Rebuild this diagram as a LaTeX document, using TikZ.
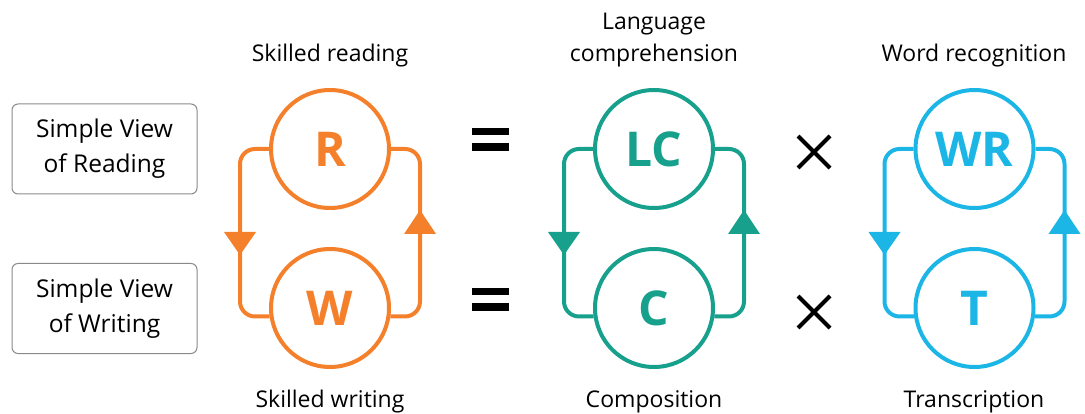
\documentclass[tikz,border=0pt]{standalone}
\usepackage{fontspec}
\setmainfont{Open Sans}
\usetikzlibrary{calc}
\definecolor{orng}{HTML}{F5802B}
\definecolor{teal2}{HTML}{17A08C}
\definecolor{blu}{HTML}{1BB5E6}
\definecolor{boxgray}{HTML}{8A8A8A}
\tikzset{
  circ/.style={circle, draw, line width=4pt, minimum size=118pt, inner sep=0pt,
    font=\fontsize{48}{48}\selectfont\bfseries},
  loopline/.style={line width=4pt, rounded corners=15pt},
  lbl/.style={font=\fontsize{23}{32}\selectfont, anchor=base, inner sep=0pt, align=center},
  sidebox/.style={draw=boxgray, line width=1pt, rounded corners=6pt, minimum width=185pt,
    minimum height=90pt, inner sep=0pt, align=center, font=\fontsize{24.5}{35}\selectfont},
  opsym/.style={line width=4pt},
}
\newcommand{\loopgroup}[5]{%
  % #1 prefix, #2 centre x, #3 colour, #4 top letter, #5 bottom letter
  \node[circ, draw=#3, text=#3] (#1top) at (#2,149) {#4};
  \node[circ, draw=#3, text=#3] (#1bot) at (#2,308) {#5};
  \coordinate (#1L) at (#2-90,0);
  \coordinate (#1R) at (#2+90,0);
  \draw[loopline, draw=#3] (#1top.west) -- (#1top.west -| #1L) |- (#1bot.188);
  \draw[loopline, draw=#3] (#1bot.-8) -- (#1bot.-8 -| #1R) |- (#1top.east);
  \fill[#3] (#2-106,232) -- (#2-74,232) -- (#2-90,255) -- cycle;
  \fill[#3] (#2+74,234) -- (#2+106,234) -- (#2+90,210) -- cycle;
}
\begin{document}
\begin{tikzpicture}[x=1pt, y=-1pt]
\useasboundingbox (0,0) rectangle (1085,414);
% side boxes
\node[sidebox] (svr) at (104.5,149) {Simple View\\of Reading};
\node[sidebox] (svw) at (104.5,308.5) {Simple View\\of Writing};
% groups
\loopgroup{o}{330}{orng}{R}{W}
\loopgroup{t}{654}{teal2}{LC}{C}
\loopgroup{b}{974.5}{blu}{WR}{T}
% labels
\node[lbl] (lsr) at (330,62) {Skilled reading};
\node[lbl] (lsw) at (330,407) {Skilled writing};
\node[lbl] (llc1) at (654,30) {Language};
\node[lbl] (llc2) at (654,62) {comprehension};
\node[lbl] (lco) at (654,407) {Composition};
\node[lbl] (lwr) at (974,62) {Word recognition};
\node[lbl] (ltr) at (974,407) {Transcription};
% equals signs
\fill (472,128) rectangle (509,135.5);
\fill (472,143.5) rectangle (509,151);
\fill (472,288) rectangle (509,295.5);
\fill (472,303.5) rectangle (509,311);
% times signs
\draw[opsym] (798,136) -- (830,168) (798,168) -- (830,136);
\draw[opsym] (798,296) -- (830,328) (798,328) -- (830,296);
\end{tikzpicture}
\end{document}
